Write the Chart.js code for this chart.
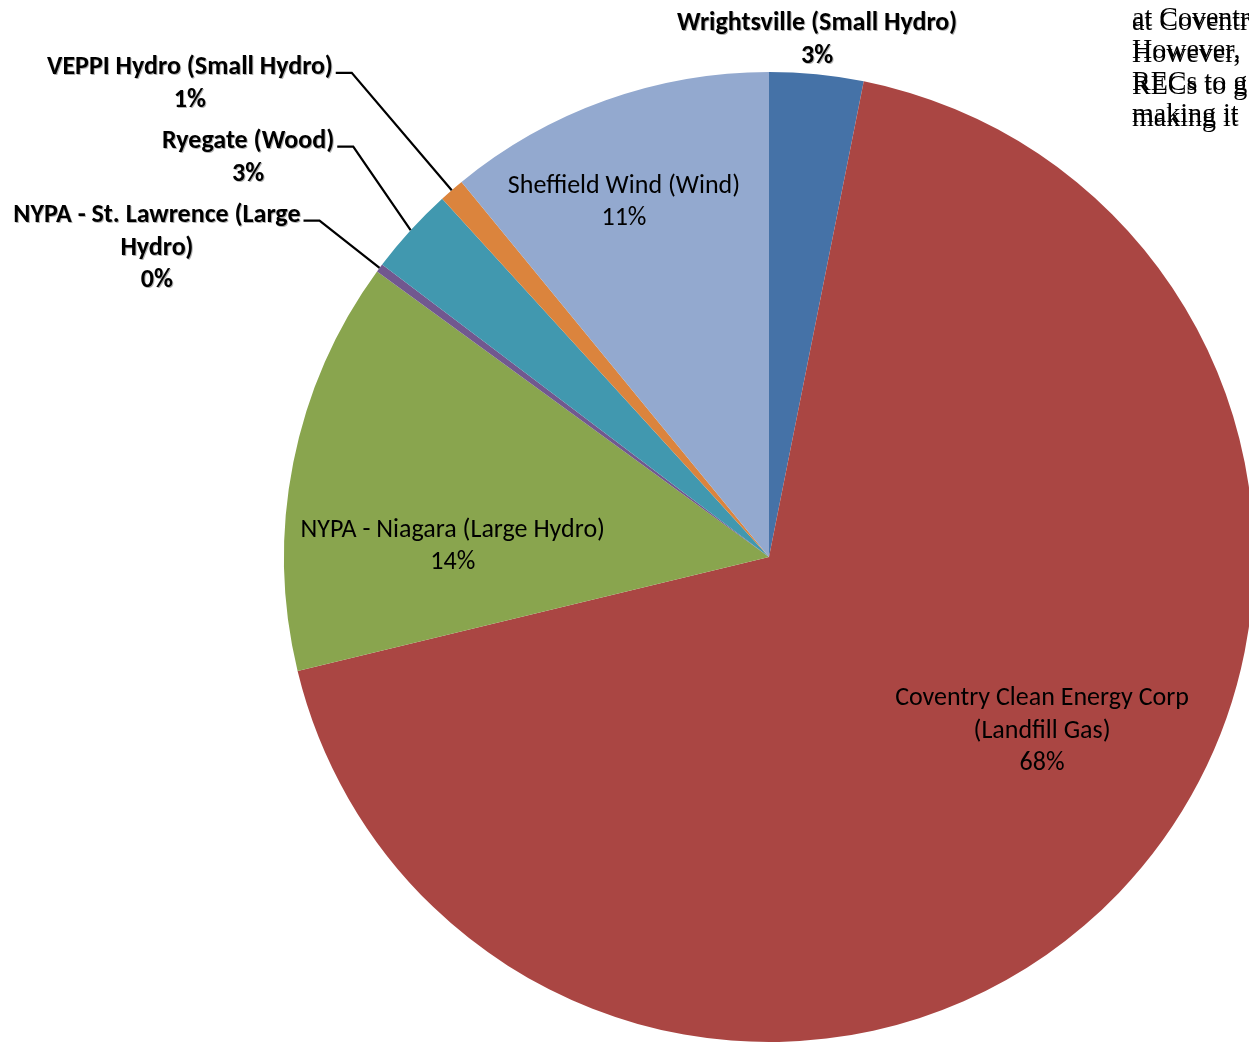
<!DOCTYPE html>
<html>
<head>
<meta charset="utf-8">
<script src="https://cdn.jsdelivr.net/npm/chart.js@4/dist/chart.umd.min.js"></script>
<style>
  html, body { margin: 0; padding: 0; background: #fff; overflow: hidden; }
  #wrap { position: absolute; left: 0; top: 0; width: 1300px; height: 1044px; }
</style>
</head>
<body>
<div id="wrap"><canvas id="pieChart"></canvas></div>
<script>
// data (share of RECs, percent)
const categories = [
  'Wrightsville (Small Hydro)',
  'Coventry Clean Energy Corp (Landfill Gas)',
  'NYPA - Niagara (Large Hydro)',
  'NYPA - St. Lawrence (Large Hydro)',
  'Ryegate (Wood)',
  'VEPPI Hydro (Small Hydro)',
  'Sheffield Wind (Wind)'
];
const shares = [3.13, 68.1, 13.8, 0.28, 2.93, 0.84, 10.93];
const colors = ['#4572A7', '#AA4643', '#89A54E', '#71588F', '#4198AF', '#DB843D', '#93A9CF'];

// label layout: centre of the text block in units of the radius, from the pie centre
const labelSpots = [[0.099, -1.066], [0.563, 0.359], [-0.652, -0.022], [-1.262, -0.637], [-1.074, -0.823], [-1.194, -0.975], [-0.299, -0.731]];
const labelOutside = [true, false, false, true, true, true, false];
const labelLeader = [false, false, false, true, true, true, false];
const wrapWidth = [420, 345, 420, 325, 420, 420, 420];

// clipped page text at the top right
const pageLines = ['at Coventr', 'However,', 'RECs to g', 'making it'];

const FONT = 'Carlito, Calibri, Lato, sans-serif';

function wrapText(ctx, text, maxW) {
  const words = text.split(' ');
  const lines = [];
  let cur = '';
  words.forEach(w => {
    const test = cur ? cur + ' ' + w : w;
    if (ctx.measureText(test).width > maxW && cur) {
      lines.push(cur);
      cur = w;
    } else {
      cur = test;
    }
  });
  if (cur) lines.push(cur);
  return lines;
}

const pieLabels = {
  id: 'pieLabels',
  afterDraw(chart) {
    const ctx = chart.ctx;
    const meta = chart.getDatasetMeta(0);
    const total = shares.reduce((a, b) => a + b, 0);
    ctx.save();
    ctx.textAlign = 'center';
    ctx.textBaseline = 'middle';
    const lh = 32.5;
    meta.data.forEach((arc, i) => {
      const r = arc.outerRadius;
      const cx = arc.x + labelSpots[i][0] * r;
      const cy = arc.y + labelSpots[i][1] * r;
      ctx.font = (labelOutside[i] ? 'bold ' : '') + '26px ' + FONT;
      const lines = wrapText(ctx, categories[i], wrapWidth[i]);
      lines.push(Math.round(shares[i] / total * 100) + '%');
      const top = cy - (lines.length - 1) * lh / 2;
      lines.forEach((t, k) => {
        const y = top + k * lh;
        if (labelOutside[i]) {
          ctx.fillStyle = 'rgba(0,0,0,0.3)';
          ctx.fillText(t, cx + 1, y + 1);
        }
        ctx.fillStyle = '#000';
        ctx.fillText(t, cx, y);
      });
      if (labelLeader[i]) {
        const w0 = ctx.measureText(lines[0]).width;
        const sx = cx + w0 / 2 + 3;
        const sy = top + 5;
        const mid = (arc.startAngle + arc.endAngle) / 2;
        const ex = arc.x + Math.cos(mid) * r;
        const ey = arc.y + Math.sin(mid) * r;
        ctx.strokeStyle = '#000';
        ctx.lineWidth = 2.2;
        ctx.beginPath();
        ctx.moveTo(sx, sy);
        ctx.lineTo(sx + 16, sy);
        ctx.lineTo(ex, ey);
        ctx.stroke();
      }
    });

    // page text behind the chart, drawn twice like the scanned overlap
    ctx.textAlign = 'left';
    ctx.textBaseline = 'alphabetic';
    ctx.font = '28px "Liberation Serif", "Times New Roman", serif';
    ctx.fillStyle = '#000';
    pageLines.forEach((t, k) => {
      const y = 30 + k * 32;
      ctx.fillText(t, 1132, y);
      ctx.fillText(t, 1132, y - 4);
    });
    ctx.restore();
  }
};

new Chart(document.getElementById('pieChart'), {
  type: 'pie',
  data: {
    labels: categories,
    datasets: [{
      data: shares,
      backgroundColor: colors,
      borderWidth: 0
    }]
  },
  options: {
    responsive: true,
    maintainAspectRatio: false,
    devicePixelRatio: 1,
    animation: false,
    layout: { padding: { left: 284, top: 72, right: 46, bottom: 2 } },
    plugins: {
      legend: { display: false },
      tooltip: { enabled: false }
    }
  },
  plugins: [pieLabels]
});
</script>
</body>
</html>
